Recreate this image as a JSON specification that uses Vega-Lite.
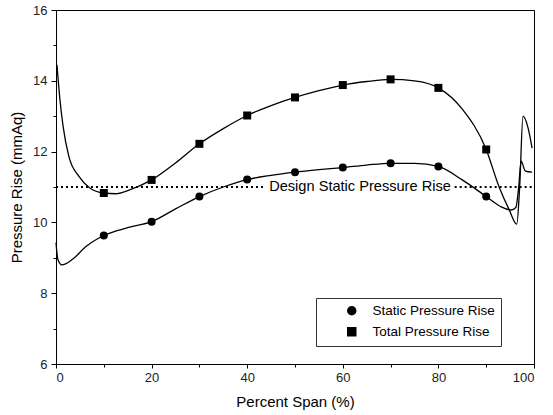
{
  "$schema": "https://vega.github.io/schema/vega-lite/v6.json",
  "width": 478,
  "height": 354,
  "autosize": "none",
  "padding": {"left": 56, "top": 10, "right": 19, "bottom": 51},
  "background": "white",
  "config": {
    "view": {"stroke": "black", "strokeWidth": 1},
    "font": "Liberation Sans",
    "axis": {
      "domainColor": "black", "domainWidth": 1, "tickColor": "black", "tickWidth": 1,
      "labelFont": "Liberation Sans", "labelFontSize": 13, "labelColor": "#222",
      "titleFont": "Liberation Sans", "titleFontSize": 15, "titleFontWeight": "normal", "titleColor": "black",
      "grid": false
    }
  },
  "resolve": {"axis": {"x": "independent", "y": "independent"}},
  "datasets": {
    "curves": [
      {"series": "Total Pressure Rise", "span": 0.2, "p": 14.45},
      {"series": "Total Pressure Rise", "span": 0.8, "p": 13.5},
      {"series": "Total Pressure Rise", "span": 1.5, "p": 12.7},
      {"series": "Total Pressure Rise", "span": 2.7, "p": 11.86},
      {"series": "Total Pressure Rise", "span": 4.8, "p": 11.3},
      {"series": "Total Pressure Rise", "span": 7, "p": 10.98},
      {"series": "Total Pressure Rise", "span": 10, "p": 10.83},
      {"series": "Total Pressure Rise", "span": 12.5, "p": 10.81},
      {"series": "Total Pressure Rise", "span": 15, "p": 10.9},
      {"series": "Total Pressure Rise", "span": 20, "p": 11.2},
      {"series": "Total Pressure Rise", "span": 25, "p": 11.68},
      {"series": "Total Pressure Rise", "span": 30, "p": 12.22},
      {"series": "Total Pressure Rise", "span": 35, "p": 12.65},
      {"series": "Total Pressure Rise", "span": 40, "p": 13.02},
      {"series": "Total Pressure Rise", "span": 45, "p": 13.3},
      {"series": "Total Pressure Rise", "span": 50, "p": 13.53},
      {"series": "Total Pressure Rise", "span": 55, "p": 13.72},
      {"series": "Total Pressure Rise", "span": 60, "p": 13.88},
      {"series": "Total Pressure Rise", "span": 65, "p": 13.98},
      {"series": "Total Pressure Rise", "span": 70, "p": 14.04},
      {"series": "Total Pressure Rise", "span": 75, "p": 14.0},
      {"series": "Total Pressure Rise", "span": 80, "p": 13.8},
      {"series": "Total Pressure Rise", "span": 85, "p": 13.2},
      {"series": "Total Pressure Rise", "span": 90, "p": 12.06},
      {"series": "Total Pressure Rise", "span": 92.7, "p": 11.0},
      {"series": "Total Pressure Rise", "span": 94.8, "p": 10.36},
      {"series": "Total Pressure Rise", "span": 96.4, "p": 9.95},
      {"series": "Total Pressure Rise", "span": 97.0, "p": 11.0},
      {"series": "Total Pressure Rise", "span": 97.7, "p": 13.0},
      {"series": "Total Pressure Rise", "span": 98.7, "p": 12.7},
      {"series": "Total Pressure Rise", "span": 99.6, "p": 12.1},
      {"series": "Static Pressure Rise", "span": 0, "p": 9.43},
      {"series": "Static Pressure Rise", "span": 0.4, "p": 8.95},
      {"series": "Static Pressure Rise", "span": 1.2, "p": 8.8},
      {"series": "Static Pressure Rise", "span": 3.4, "p": 8.95},
      {"series": "Static Pressure Rise", "span": 6.2, "p": 9.31},
      {"series": "Static Pressure Rise", "span": 10, "p": 9.63},
      {"series": "Static Pressure Rise", "span": 15, "p": 9.85},
      {"series": "Static Pressure Rise", "span": 20, "p": 10.02},
      {"series": "Static Pressure Rise", "span": 25, "p": 10.38},
      {"series": "Static Pressure Rise", "span": 30, "p": 10.73},
      {"series": "Static Pressure Rise", "span": 35, "p": 11.0},
      {"series": "Static Pressure Rise", "span": 40, "p": 11.21},
      {"series": "Static Pressure Rise", "span": 45, "p": 11.33},
      {"series": "Static Pressure Rise", "span": 50, "p": 11.42},
      {"series": "Static Pressure Rise", "span": 55, "p": 11.49},
      {"series": "Static Pressure Rise", "span": 60, "p": 11.55},
      {"series": "Static Pressure Rise", "span": 65, "p": 11.62},
      {"series": "Static Pressure Rise", "span": 70, "p": 11.67},
      {"series": "Static Pressure Rise", "span": 75, "p": 11.67},
      {"series": "Static Pressure Rise", "span": 80, "p": 11.58},
      {"series": "Static Pressure Rise", "span": 85, "p": 11.2},
      {"series": "Static Pressure Rise", "span": 90, "p": 10.73},
      {"series": "Static Pressure Rise", "span": 93, "p": 10.45},
      {"series": "Static Pressure Rise", "span": 95.2, "p": 10.35},
      {"series": "Static Pressure Rise", "span": 96.2, "p": 10.42},
      {"series": "Static Pressure Rise", "span": 96.8, "p": 11.0},
      {"series": "Static Pressure Rise", "span": 97.3, "p": 11.73},
      {"series": "Static Pressure Rise", "span": 98.2, "p": 11.45},
      {"series": "Static Pressure Rise", "span": 99.6, "p": 11.42}
    ],
    "markers": [
      {"series": "Static Pressure Rise", "span": 10, "p": 9.63},
      {"series": "Static Pressure Rise", "span": 20, "p": 10.02},
      {"series": "Static Pressure Rise", "span": 30, "p": 10.73},
      {"series": "Static Pressure Rise", "span": 40, "p": 11.21},
      {"series": "Static Pressure Rise", "span": 50, "p": 11.42},
      {"series": "Static Pressure Rise", "span": 60, "p": 11.55},
      {"series": "Static Pressure Rise", "span": 70, "p": 11.67},
      {"series": "Static Pressure Rise", "span": 80, "p": 11.58},
      {"series": "Static Pressure Rise", "span": 90, "p": 10.73},
      {"series": "Total Pressure Rise", "span": 10, "p": 10.83},
      {"series": "Total Pressure Rise", "span": 20, "p": 11.2},
      {"series": "Total Pressure Rise", "span": 30, "p": 12.22},
      {"series": "Total Pressure Rise", "span": 40, "p": 13.02},
      {"series": "Total Pressure Rise", "span": 50, "p": 13.53},
      {"series": "Total Pressure Rise", "span": 60, "p": 13.88},
      {"series": "Total Pressure Rise", "span": 70, "p": 14.04},
      {"series": "Total Pressure Rise", "span": 80, "p": 13.8},
      {"series": "Total Pressure Rise", "span": 90, "p": 12.06}
    ],
    "design": [
      {"x1": 0, "x2": 43.5, "p": 11.0},
      {"x1": 83.4, "x2": 100, "p": 11.0}
    ],
    "label": [
      {"span": 63.6, "p": 11.0, "text": "Design Static Pressure Rise"}
    ]
  },
  "layer": [
    {
      "data": {"name": "design"},
      "mark": {"type": "rule", "color": "black", "strokeWidth": 2, "strokeDash": [2, 3]},
      "encoding": {
        "x": {"field": "x1", "type": "quantitative", "scale": {"domain": [0, 100]},
          "axis": {"orient": "bottom", "values": [0, 20, 40, 60, 80, 100], "title": "Percent Span (%)", "tickSize": 4, "labelPadding": 3, "titlePadding": 10, "format": "d"}},
        "x2": {"field": "x2"},
        "y": {"field": "p", "type": "quantitative", "scale": {"domain": [6, 16]},
          "axis": {"orient": "left", "values": [6, 8, 10, 12, 14, 16], "title": "Pressure Rise (mmAq)", "tickSize": 5, "labelPadding": 4, "titlePadding": 8, "format": "d"}}
      }
    },
    {
      "data": {"name": "label"},
      "mark": {"type": "text", "fontSize": 14.6, "font": "Liberation Sans", "color": "black", "align": "center", "baseline": "middle"},
      "encoding": {
        "x": {"field": "span", "type": "quantitative",
          "axis": {"orient": "bottom", "values": [10, 30, 50, 70, 90], "title": null, "labels": false, "domain": false, "tickSize": 3}},
        "y": {"field": "p", "type": "quantitative",
          "axis": {"orient": "left", "values": [7, 9, 11, 13, 15], "title": null, "labels": false, "domain": false, "tickSize": 3}},
        "text": {"field": "text"}
      }
    },
    {
      "data": {"name": "curves"},
      "mark": {"type": "line", "color": "black", "strokeWidth": 1.3, "interpolate": "monotone"},
      "encoding": {
        "x": {"field": "span", "type": "quantitative", "axis": null},
        "y": {"field": "p", "type": "quantitative", "axis": null},
        "detail": {"field": "series"}
      }
    },
    {
      "data": {"name": "markers"},
      "mark": {"type": "point", "filled": true, "size": 64, "color": "black", "opacity": 1},
      "encoding": {
        "x": {"field": "span", "type": "quantitative", "axis": null},
        "y": {"field": "p", "type": "quantitative", "axis": null},
        "shape": {"field": "series", "type": "nominal",
          "scale": {"domain": ["Static Pressure Rise", "Total Pressure Rise"], "range": ["circle", "square"]},
          "legend": {
            "title": null, "orient": "none", "legendX": 260, "legendY": 288,
            "strokeColor": "#333", "fillColor": "white", "padding": 6,
            "labelFont": "Liberation Sans", "labelFontSize": 13.5, "labelColor": "black",
            "labelOffset": 14, "rowPadding": 5, "symbolSize": 90, "symbolOffset": 23,
            "symbolOpacity": 1, "symbolFillColor": "black"
          }
        }
      }
    }
  ]
}
